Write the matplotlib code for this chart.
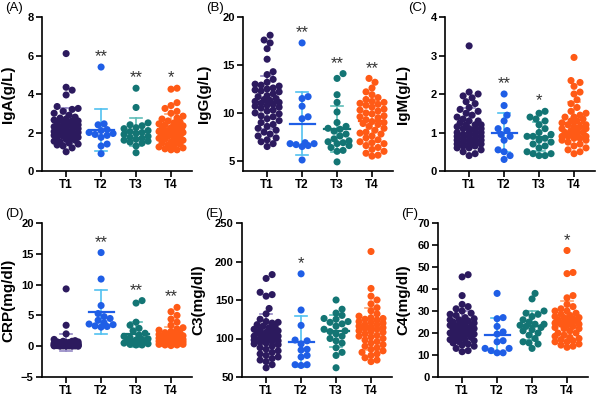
import numpy as np
import matplotlib
matplotlib.use("Agg")
import matplotlib.pyplot as plt

plt.rcParams['font.family'] = ['Liberation Sans', 'DejaVu Sans']

groups = ["T1", "T2", "T3", "T4"]
colors = ["#2c1a5e", "#1f5ee6", "#137574", "#ff5a16"]
bar_colors = ["#9387c4", "#52c1f0", "#5fbdb8", "#ffa46f"]

# ---- IgA (g/L)
iga_t1 = [6.1, 4.35, 4.2, 3.95, 3.35, 3.25, 3.2, 3.1, 3.0, 2.9, 2.8, 2.7, 2.65, 2.6, 2.55, 2.5, 2.45,
          2.4, 2.35, 2.3, 2.3, 2.25, 2.2, 2.2, 2.15, 2.1, 2.1, 2.05, 2.0, 2.0, 1.95, 1.9, 1.9, 1.85,
          1.8, 1.8, 1.75, 1.7, 1.7, 1.65, 1.6, 1.55, 1.5, 1.45, 1.4, 1.35, 1.3, 1.2, 1.0, 2.5, 2.6, 2.75]
iga_t2 = [5.4, 2.45, 2.4, 2.15, 2.1, 2.0, 1.95, 1.9, 1.85, 1.75, 1.4, 1.3, 0.9]
iga_t3 = [4.3, 3.3, 2.5, 2.4, 2.35, 2.25, 2.2, 2.1, 2.0, 1.95, 1.9, 1.8, 1.75, 1.7, 1.65, 1.6, 1.55,
          1.5, 1.45, 1.3, 0.95, 2.05]
iga_t4 = [4.3, 4.25, 3.55, 3.4, 3.25, 3.1, 3.0, 2.85, 2.75, 2.7, 2.6, 2.55, 2.5, 2.45, 2.4, 2.35, 2.3,
          2.25, 2.2, 2.15, 2.1, 2.05, 2.0, 2.0, 1.95, 1.9, 1.85, 1.8, 1.8, 1.75, 1.7, 1.65, 1.6, 1.55,
          1.5, 1.45, 1.4, 1.35, 1.3, 1.25, 1.2, 1.15, 1.1, 1.1, 2.05]

# ---- IgG (g/L)
igg_t1 = [18.1, 17.6, 17.3, 16.7, 15.6, 14.3, 14.0, 13.5, 13.2, 13.0, 12.9, 12.8, 12.6, 12.4, 12.3,
          12.2, 12.0, 11.8, 11.7, 11.5, 11.4, 11.3, 11.2, 11.0, 10.9, 10.7, 10.6, 10.5, 10.3, 10.2,
          10.0, 9.9, 9.7, 9.6, 9.4, 9.2, 9.0, 8.8, 8.6, 8.4, 8.2, 8.0, 7.8, 7.6, 7.4, 7.2, 7.0, 6.8,
          6.5, 12.5, 11.1, 10.8]
igg_t2 = [17.3, 11.7, 11.5, 10.7, 9.6, 9.4, 6.9, 6.8, 6.8, 6.7, 6.6, 6.5, 5.1]
igg_t3 = [14.1, 13.6, 11.9, 11.1, 10.1, 9.0, 8.6, 8.4, 8.1, 7.8, 7.6, 7.3, 7.1, 7.0, 6.9, 6.8, 6.6,
          6.4, 6.1, 6.0, 4.9, 8.3]
igg_t4 = [13.6, 13.2, 12.6, 12.2, 11.9, 11.6, 11.4, 11.2, 11.0, 10.8, 10.6, 10.4, 10.2, 10.0, 9.9,
          9.7, 9.5, 9.3, 9.1, 9.0, 8.8, 8.6, 8.4, 8.2, 8.0, 7.8, 7.6, 7.4, 7.2, 7.0, 6.8, 6.6, 6.4,
          6.2, 6.0, 5.8, 5.6, 5.5, 10.9, 10.3, 9.6, 8.9, 7.9, 6.9, 11.1]

# ---- IgM (g/L)
igm_t1 = [3.25, 2.05, 2.0, 1.95, 1.9, 1.8, 1.75, 1.65, 1.6, 1.55, 1.5, 1.45, 1.4, 1.35, 1.3, 1.3,
          1.25, 1.2, 1.2, 1.15, 1.1, 1.1, 1.05, 1.0, 1.0, 0.95, 0.95, 0.9, 0.9, 0.85, 0.85, 0.8, 0.8,
          0.8, 0.75, 0.75, 0.7, 0.7, 0.7, 0.65, 0.65, 0.6, 0.6, 0.55, 0.5, 0.45, 0.4, 1.0, 0.9, 1.1,
          1.2, 0.75]
igm_t2 = [2.0, 1.7, 1.45, 1.3, 1.1, 1.05, 0.95, 0.9, 0.8, 0.55, 0.5, 0.4, 0.3]
igm_t3 = [1.55, 1.5, 1.4, 1.35, 1.3, 1.2, 1.1, 1.0, 0.95, 0.9, 0.85, 0.8, 0.75, 0.7, 0.65, 0.6, 0.5,
          0.45, 0.45, 0.4, 0.4, 0.9]
igm_t4 = [2.95, 2.35, 2.3, 2.2, 2.05, 2.0, 1.85, 1.75, 1.65, 1.55, 1.5, 1.45, 1.4, 1.35, 1.3, 1.3,
          1.25, 1.2, 1.2, 1.15, 1.1, 1.1, 1.05, 1.05, 1.0, 1.0, 0.95, 0.95, 0.9, 0.9, 0.85, 0.85, 0.8,
          0.8, 0.75, 0.7, 0.65, 0.6, 0.55, 0.5, 0.45, 1.4, 1.15, 1.0, 0.9]

# ---- CRP (mg/dl)
crp_t1 = [9.3, 3.4, 2.0, 1.1, 0.9, 0.8, 0.7, 0.6, 0.6, 0.5, 0.5, 0.5, 0.4, 0.4, 0.4, 0.4, 0.3, 0.3,
          0.3, 0.3, 0.3, 0.2, 0.2, 0.2, 0.2, 0.2, 0.2, 0.15, 0.15, 0.15, 0.1, 0.1, 0.1, 0.1, 0.1, 0.1,
          0.05, 0.05, 0.05, 0.05, 0.0, 0.0, 0.0, 0.0, 0.3, 0.5, 0.6, 0.2, 0.1, 0.4, 0.7, 0.8]
crp_t2 = [15.2, 10.9, 6.6, 5.3, 4.8, 4.5, 4.2, 3.8, 3.6, 3.5, 3.3, 3.1, 3.2]
crp_t3 = [7.4, 7.0, 3.9, 3.4, 2.9, 2.5, 2.1, 1.8, 1.6, 1.4, 1.2, 1.1, 1.0, 0.9, 0.8, 0.6, 0.5, 0.4,
          0.3, 0.2, 0.2, 0.7]
crp_t4 = [6.3, 5.6, 5.0, 4.4, 3.9, 3.4, 3.0, 2.8, 2.6, 2.4, 2.2, 2.0, 1.9, 1.8, 1.7, 1.6, 1.5, 1.4,
          1.3, 1.2, 1.1, 1.0, 1.0, 0.9, 0.9, 0.8, 0.8, 0.7, 0.7, 0.6, 0.6, 0.5, 0.5, 0.4, 0.4, 0.3,
          0.3, 0.2, 0.2, 0.1, 1.5, 1.2, 0.8, 2.1, 1.0]

# ---- C3 (mg/dl)
c3_t1 = [183, 178, 160, 157, 155, 139, 132, 125, 122, 120, 118, 116, 114, 112, 110, 109, 108, 106,
         105, 104, 103, 102, 101, 100, 100, 99, 98, 97, 96, 95, 94, 93, 92, 90, 88, 86, 84, 82, 80,
         78, 76, 74, 72, 70, 66, 62, 111, 107, 103, 98, 121, 115]
c3_t2 = [184, 137, 117, 98, 97, 93, 86, 85, 78, 76, 66, 66, 65]
c3_t3 = [150, 138, 133, 130, 126, 122, 121, 119, 116, 112, 109, 106, 103, 100, 97, 94, 88, 82, 78,
         62, 110, 125]
c3_t4 = [213, 165, 155, 150, 145, 140, 136, 132, 129, 126, 124, 122, 120, 118, 116, 114, 112, 110,
         108, 106, 104, 102, 100, 98, 96, 94, 92, 90, 88, 86, 84, 82, 80, 78, 75, 72, 70, 118, 125,
         113, 121, 109, 127, 115, 103]

# ---- C4 (mg/dl)
c4_t1 = [46.5, 45.5, 37, 33, 32, 31, 30, 29, 28.5, 28, 27, 26.5, 26, 25.5, 25, 24.5, 24, 23.5, 23,
         23, 22.5, 22, 22, 21.5, 21, 21, 20.5, 20, 20, 19.5, 19, 18.5, 18, 18, 17.5, 17, 16.5, 16,
         15.5, 15, 14.5, 14, 13, 12, 11.5, 24, 22, 20, 26, 25, 19, 17]
c4_t2 = [38, 27, 26.5, 23, 20.5, 19.5, 16.5, 16, 13, 13, 12, 11, 11]
c4_t3 = [38, 35.5, 30, 29, 28.5, 27.5, 26, 25, 24, 23.5, 23, 22.5, 21, 20, 19, 17.5, 16, 15.5, 15,
         13, 24, 21.5]
c4_t4 = [57.5, 47.5, 47, 37, 36, 33, 32, 31, 30, 29, 28.5, 28, 27.5, 27, 26.5, 26, 25.5, 25, 24.5,
         24, 23.5, 23, 22.5, 22, 21, 20, 19, 18.5, 18, 17.5, 17, 16.5, 16, 15, 14.5, 14, 13.5, 27, 26,
         25, 30, 24, 22, 20, 16]

panel_labels = ["(A)", "(B)", "(C)", "(D)", "(E)", "(F)"]
ylabels = ["IgA(g/L)", "IgG(g/L)", "IgM(g/L)", "CRP(mg/dl)", "C3(mg/dl)", "C4(mg/dl)"]
panel_data = [
    [iga_t1, iga_t2, iga_t3, iga_t4],
    [igg_t1, igg_t2, igg_t3, igg_t4],
    [igm_t1, igm_t2, igm_t3, igm_t4],
    [crp_t1, crp_t2, crp_t3, crp_t4],
    [c3_t1, c3_t2, c3_t3, c3_t4],
    [c4_t1, c4_t2, c4_t3, c4_t4],
]
stars = [
    ["", "**", "**", "*"],
    ["", "**", "**", "**"],
    ["", "**", "*", ""],
    ["", "**", "**", "**"],
    ["", "*", "", ""],
    ["", "", "", "*"],
]
ylims = [(0, 8), (3.95, 20), (0, 4), (-5, 20), (50, 250), (0, 70)]
yticks = [[0, 2, 4, 6, 8], [5, 10, 15, 20], [0, 1, 2, 3, 4],
          [-5, 0, 5, 10, 15, 20], [50, 100, 150, 200, 250], [0, 10, 20, 30, 40, 50, 60, 70]]

W, H = 598, 396
# axes boxes in pixels: left, top, width, height
boxes = [(42, 17, 150, 154), (243, 17, 150, 154), (445, 17, 150, 154),
         (42, 223, 150, 154), (242, 223, 150, 154), (438, 223, 150, 154)]
label_off = [27, 32, 35, 27, 37, 28]
XMIN, XMAX = -0.69, 3.6


def swarm(vals, ylim, h_px, px_per_unit, d=6.0, maxw=13.0):
    ''' simple beeswarm: offsets in data units along x '''
    v = np.asarray(vals, dtype=float)
    ys = (v - ylim[0]) / (ylim[1] - ylim[0]) * h_px
    order = np.argsort(ys)
    xs = np.zeros(len(v))
    placed = []
    cands = [0.0]
    for k in range(1, 12):
        cands += [k * d * 0.5, -k * d * 0.5]
    for i in order:
        best, best_score = 0.0, -1
        for c in cands:
            if abs(c) > maxw:
                continue
            md = min([np.hypot(c - px, ys[i] - py) for px, py in placed], default=99)
            if md >= d:
                best = c
                break
            if md > best_score:
                best_score, best = md, c
        xs[i] = best
        placed.append((best, ys[i]))
    return xs / px_per_unit


fig = plt.figure(figsize=(W / 100, H / 100), dpi=100)

for p in range(6):
    l, t, w, h = boxes[p]
    ax = fig.add_axes([l / W, 1 - (t + h) / H, w / W, h / H])
    ppu = w / (XMAX - XMIN)
    for g in range(4):
        vals = np.array(panel_data[p][g], dtype=float)
        m, sd = vals.mean(), vals.std(ddof=1)
        # SD bar (behind the dots)
        ax.plot([g, g], [m - sd, m + sd], color=bar_colors[g], lw=1.2, zorder=1)
        for yy in (m - sd, m + sd):
            ax.plot([g - 0.17, g + 0.17], [yy, yy], color=bar_colors[g], lw=1.2, zorder=1)
        xo = swarm(vals, ylims[p], h, ppu)
        ax.scatter(g + xo, vals, s=26, color=colors[g], edgecolors='none', zorder=2)
        ax.plot([g - 0.36, g + 0.36], [m, m], color=colors[g], lw=1.6, zorder=3)
        if stars[p][g]:
            ax.annotate(stars[p][g], (g, vals.max()), xytext=(0, 2), textcoords='offset points',
                        ha='center', va='bottom', fontsize=12, color='#333333')
    ax.set_xlim(XMIN, XMAX)
    ax.set_ylim(*ylims[p])
    ax.set_yticks(yticks[p])
    ax.set_xticks(range(4))
    ax.set_xticklabels(groups, fontsize=8.5, fontweight='bold')
    for lab in ax.get_yticklabels():
        lab.set_fontsize(8)
        lab.set_fontweight('bold')
    ax.spines['top'].set_visible(False)
    ax.spines['right'].set_visible(False)
    ax.spines['left'].set_linewidth(1.2)
    ax.spines['bottom'].set_linewidth(1.2)
    ax.tick_params(axis='both', width=1.2, length=4, pad=2)
    ax.set_ylabel(ylabels[p], fontsize=11, fontweight='bold')
    ax.yaxis.set_label_coords(-label_off[p] / w, 0.5)
    fig.text((l - 37) / W, 1 - (t - 9) / H, panel_labels[p], fontsize=9.5, va='center', ha='left')

fig.savefig("out.png", dpi=100)
